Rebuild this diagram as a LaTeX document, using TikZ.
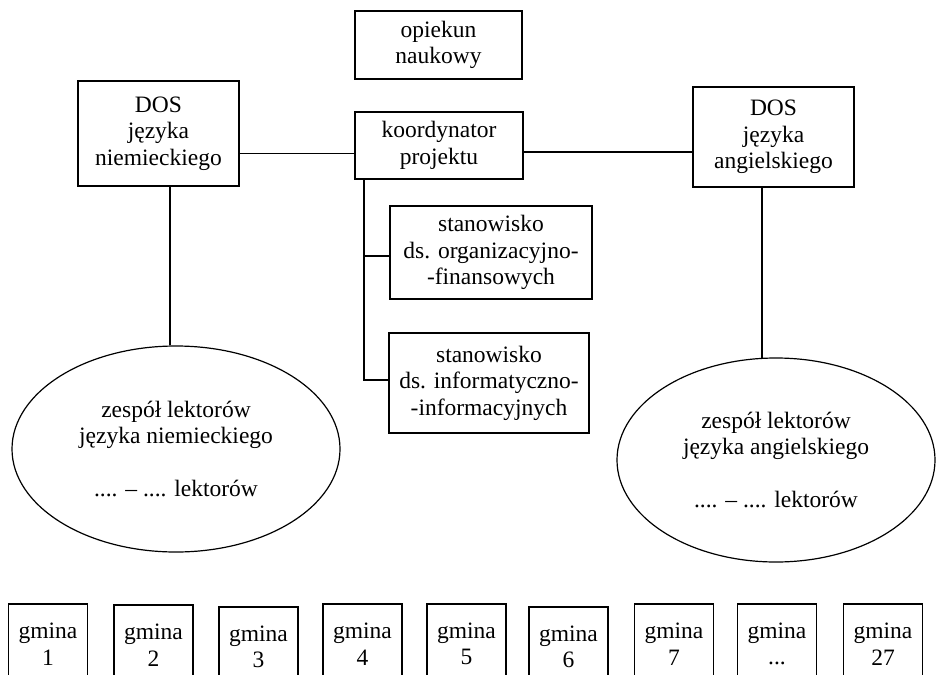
\documentclass[tikz,border=0pt]{standalone}
\usepackage{fontspec}
\setmainfont{Liberation Serif}
\usetikzlibrary{shapes.geometric}
\tikzset{
  base/.style={font=\fontsize{23.5}{26.5}\selectfont, align=center, inner sep=0pt, line width=1.2pt},
  box/.style={base, draw, rectangle},
  oval/.style={base, draw, ellipse},
  gbox/.style={box, minimum width=79, minimum height=80},
  conn/.style={line width=1.2pt}
}
\begin{document}
\begin{tikzpicture}[x=1pt,y=-1pt]
\useasboundingbox (0,0) rectangle (936,674);
% top nodes
\node[box, minimum width=167, minimum height=68] (opiekun) at (438.5,45) {opiekun\\naukowy};
\node[box, minimum width=168, minimum height=67] (koord) at (439,145.5) {koordynator\\projektu};
\node[box, minimum width=161, minimum height=105] (niem) at (158.5,133.5) {DOS\\języka\\niemieckiego};
\node[box, minimum width=161, minimum height=100] (ang) at (773.5,137) {DOS\\języka\\angielskiego};
\node[box, minimum width=202, minimum height=93] (stan1) at (491,252.5) {stanowisko\\ds. organizacyjno-\\-finansowych};
\node[box, minimum width=200, minimum height=100] (stan2) at (489,383) {stanowisko\\ds. informatyczno-\\-informacyjnych};
% ellipses
\node[oval, minimum width=328, minimum height=206] (ellN) at (176,449)
  {zespół lektorów\\języka niemieckiego\\[26.5pt].... – .... lektorów};
\node[oval, minimum width=318, minimum height=204] (ellA) at (776,460)
  {zespół lektorów\\języka angielskiego\\[26.5pt].... – .... lektorów};
% helper coordinates
\coordinate (hy1) at (0,153.5);
\coordinate (hy2) at (0,152);
\coordinate (nx) at (170,0);
\coordinate (ax) at (762,0);
\coordinate (b1) at (364,256);
\coordinate (b2) at (364,380);
% connectors
\draw[conn] (niem.east |- hy1) -- (koord.west |- hy1);
\draw[conn] (koord.east |- hy2) -- (ang.west |- hy2);
\draw[conn] (niem.south -| nx) -- (ellN.north -| nx);
\draw[conn] (ang.south -| ax) -- ([yshift=-0.5pt]ellA.north -| ax);
\draw[conn] (koord.south -| b1) -- (b2) -- (stan2.west |- b2);
\draw[conn] (b1) -- (stan1.west |- b1);
% gmina row
\node[gbox] (g1) at (48,644) {gmina\\1};
\node[gbox] (g2) at (153.5,645) {gmina\\2};
\node[gbox] (g3) at (258.5,647) {gmina\\3};
\node[gbox] (g4) at (362.5,644) {gmina\\4};
\node[gbox] (g5) at (466.5,644) {gmina\\5};
\node[gbox] (g6) at (568.5,647) {gmina\\6};
\node[gbox] (g7) at (674,644) {gmina\\7};
\node[gbox] (g8) at (777,644) {gmina\\...};
\node[gbox] (g9) at (883,644) {gmina\\27};
\end{tikzpicture}
\end{document}
